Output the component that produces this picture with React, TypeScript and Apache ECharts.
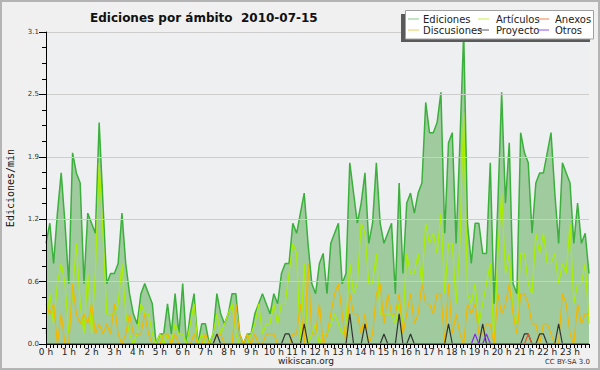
import React, { useEffect, useRef } from "react";
import * as echarts from "echarts";

const hourLabels = [
  "0 h", "1 h", "2 h", "3 h", "4 h", "5 h", "6 h", "7 h", "8 h", "9 h", "10 h", "11 h",
  "12 h", "13 h", "14 h", "15 h", "16 h", "17 h", "18 h", "19 h", "20 h", "21 h", "22 h", "23 h",
];
const yTickValues = [0, 0.62, 1.24, 1.86, 2.48, 3.1];

// 10-minute samples (144 per day), edits per minute
const ediciones = [
  1.0, 1.2, 0.8, 1.3, 1.7, 1.2, 0.6, 1.9, 1.7, 1.6,
  0.6, 1.3, 1.2, 1.1, 2.2, 1.4, 0.6, 0.7, 0.7, 0.8,
  1.3, 0.8, 0.5, 0.3, 0.2, 0.5, 0.6, 0.5, 0.4, 0.0,
  0.1, 0.1, 0.4, 0.1, 0.5, 0.1, 0.6, 0.0, 0.3, 0.5,
  0.0, 0.2, 0.2, 0.0, 0.1, 0.5, 0.3, 0.2, 0.3, 0.5,
  0.5, 0.1, 0.0, 0.1, 0.1, 0.3, 0.4, 0.5, 0.4, 0.3,
  0.5, 0.4, 0.7, 0.8, 0.8, 1.2, 1.1, 1.3, 1.5, 1.0,
  0.6, 0.5, 0.8, 0.9, 0.5, 1.0, 1.1, 1.2, 0.6, 0.7,
  1.8, 1.5, 1.2, 1.4, 1.7, 1.0, 1.2, 1.8, 1.2, 1.0,
  1.1, 1.2, 0.5, 1.6, 0.7, 1.4, 1.5, 1.3, 1.5, 1.6,
  2.4, 2.1, 2.1, 2.2, 2.5, 1.1, 2.0, 2.1, 1.0, 2.0,
  3.1, 1.2, 0.8, 1.2, 1.2, 0.9, 0.9, 1.8, 0.4, 1.4,
  2.5, 1.4, 2.0, 0.6, 0.5, 2.1, 1.9, 1.8, 1.1, 1.6,
  1.7, 1.7, 1.9, 2.1, 1.5, 1.0, 1.8, 1.7, 1.6, 1.0,
  1.4, 1.0, 1.1, 0.7,
];

const articulos = [
  0.1, 0.5, 0.2, 0.6, 0.8, 0.6, 0.1, 0.5, 1.0, 0.4,
  0.1, 0.7, 0.1, 0.7, 1.8, 1.1, 0.3, 0.3, 0.3, 0.4,
  0.8, 0.3, 0.1, 0.0, 0.1, 0.4, 0.3, 0.3, 0.1, 0.0,
  0.1, 0.0, 0.1, 0.0, 0.2, 0.1, 0.1, 0.0, 0.2, 0.4,
  0.0, 0.1, 0.0, 0.0, 0.1, 0.3, 0.1, 0.2, 0.3, 0.4,
  0.1, 0.0, 0.0, 0.0, 0.1, 0.2, 0.4, 0.1, 0.2, 0.2,
  0.4, 0.2, 0.4, 0.4, 0.7, 1.0, 0.9, 0.0, 0.8, 0.0,
  0.1, 0.2, 0.0, 0.1, 0.1, 0.2, 0.3, 0.2, 0.1, 0.2,
  0.8, 0.5, 0.6, 1.2, 1.1, 0.6, 0.6, 0.9, 0.3, 0.3,
  0.3, 0.3, 0.2, 0.4, 0.2, 0.9, 0.7, 0.7, 0.9, 0.6,
  1.2, 1.0, 1.1, 0.9, 1.3, 0.5, 1.0, 1.0, 0.4, 1.0,
  2.3, 0.5, 0.4, 0.6, 0.2, 0.4, 0.6, 0.8, 0.0, 0.9,
  1.5, 0.7, 0.9, 0.3, 0.2, 0.9, 0.9, 0.6, 0.5, 1.1,
  0.9, 1.1, 0.8, 0.8, 0.9, 0.6, 0.8, 0.7, 1.2, 0.4,
  0.6, 0.6, 0.8, 0.2,
];

const discusiones = [
  0.4, 0.3, 0.4, 0.0, 0.3, 0.0, 0.0, 0.6, 0.3, 0.2,
  0.3, 0.2, 0.4, 0.1, 0.2, 0.1, 0.2, 0.1, 0.4, 0.1,
  0.0, 0.1, 0.3, 0.1, 0.1, 0.1, 0.3, 0.1, 0.0, 0.0,
  0.0, 0.1, 0.1, 0.0, 0.1, 0.0, 0.0, 0.0, 0.0, 0.1,
  0.0, 0.0, 0.1, 0.0, 0.0, 0.1, 0.1, 0.0, 0.0, 0.0,
  0.4, 0.1, 0.0, 0.1, 0.0, 0.1, 0.0, 0.0, 0.1, 0.1,
  0.1, 0.0, 0.0, 0.0, 0.0, 0.1, 0.1, 0.4, 0.0, 0.8,
  0.1, 0.1, 0.4, 0.0, 0.1, 0.3, 0.5, 0.6, 0.3, 0.0,
  0.5, 0.3, 0.3, 0.1, 0.3, 0.0, 0.1, 0.5, 0.6, 0.2,
  0.5, 0.3, 0.3, 0.5, 0.1, 0.3, 0.5, 0.2, 0.3, 0.6,
  0.4, 0.4, 0.3, 0.5, 0.5, 0.0, 0.6, 0.1, 0.3, 0.1,
  0.0, 0.4, 0.3, 0.4, 0.1, 0.1, 0.2, 0.2, 0.0, 0.5,
  0.3, 0.4, 0.6, 0.3, 0.1, 0.5, 0.5, 0.4, 0.2, 0.2,
  0.0, 0.2, 0.2, 0.1, 0.0, 0.0, 0.5, 0.4, 0.1, 0.0,
  0.4, 0.2, 0.3, 0.3,
];

// sparse series: [sample index, value]; all other samples are 0
const proyectoPeaks = [
  [45, 0.1], [63, 0.1], [64, 0.1], [68, 0.2], [80, 0.3], [84, 0.2], [89, 0.1], [93, 0.3],
  [96, 0.1], [106, 0.2], [115, 0.2], [126, 0.1], [127, 0.1], [130, 0.1], [131, 0.1], [135, 0.2],
];
const otrosPeaks = [[113, 0.1], [116, 0.1]];
const anexosPeaks = [[127, 0.1]];

const N = ediciones.length;
const times = Array.from({ length: N }, (_, i) =>
  `${String(Math.floor(i / 6)).padStart(2, "0")}:${i % 6}0`
);
const expand = (peaks: number[][]) => {
  const arr = new Array(N).fill(0);
  peaks.forEach(([i, v]) => (arr[i] = v));
  return arr;
};
const proyecto = expand(proyectoPeaks);
const otros = expand(otrosPeaks);
const anexos = expand(anexosPeaks);

const legendItems = [
  { name: "Ediciones", color: "#86cc86", col: 0, row: 0 },
  { name: "Artículos", color: "#c8ec50", col: 1, row: 0 },
  { name: "Anexos", color: "#ee8050", col: 2, row: 0 },
  { name: "Discusiones", color: "#f4cc50", col: 0, row: 1 },
  { name: "Proyecto", color: "#555555", col: 1, row: 1 },
  { name: "Otros", color: "#9050ee", col: 2, row: 1 },
];

export default function App() {
  const ref = useRef<HTMLDivElement>(null);
  useEffect(() => {
    if (!ref.current) return;
    const chart = echarts.init(ref.current, null, { renderer: "svg" });
    const font = "DejaVu Sans";
    const lineSeries = (name: string, data: number[], color: string, z: number) => ({
      name,
      type: "line",
      data,
      symbol: "none",
      z,
      lineStyle: { color, width: 1.2 },
      itemStyle: { color },
    });
    const colX = [408, 478, 538];
    const textX = [423, 496, 555];
    const rowY = [19, 30];
    const legendGraphics: any[] = [];
    legendItems.forEach((it) => {
      legendGraphics.push({
        type: "line",
        shape: { x1: colX[it.col], y1: rowY[it.row], x2: colX[it.col] + 11, y2: rowY[it.row] },
        style: { stroke: it.color, lineWidth: 1 },
        z: 101,
      });
      legendGraphics.push({
        type: "text",
        x: textX[it.col],
        y: rowY[it.row],
        style: { text: it.name, font: `10px '${font}'`, fill: "#222", textVerticalAlign: "middle" },
        z: 101,
      });
    });

    chart.setOption({
      animation: false,
      backgroundColor: "#f0f0f0",
      textStyle: { fontFamily: font },
      title: {
        text: "Ediciones por ámbito  2010-07-15",
        left: 85,
        top: 7,
        textStyle: { fontFamily: font, fontWeight: "bold", fontSize: 12, color: "#111" },
      },
      grid: {
        left: 46,
        right: 11,
        top: 32,
        bottom: 26,
        show: true,
        backgroundColor: "#eeeff1",
        borderWidth: 0,
      },
      xAxis: {
        type: "category",
        data: times,
        boundaryGap: false,
        z: 10,
        axisLine: { lineStyle: { color: "#000", width: 1 } },
        axisTick: { interval: 0, length: 4, lineStyle: { color: "#000" } },
        axisLabel: {
          interval: (i: number) => i % 6 === 0,
          formatter: (_v: string, i: number) => hourLabels[Math.floor(i / 6)],
          fontSize: 9,
          color: "#222",
          margin: 3,
          fontFamily: font,
        },
        splitLine: { show: false },
      },
      yAxis: {
        type: "value",
        min: yTickValues[0],
        max: yTickValues[yTickValues.length - 1],
        interval: yTickValues[1],
        z: 10,
        axisLine: { show: true, lineStyle: { color: "#000" } },
        axisTick: { show: true, length: 7, lineStyle: { color: "#000" } },
        minorTick: { show: true, splitNumber: 4, length: 4, lineStyle: { color: "#000" } },
        axisLabel: {
          formatter: (v: number) => v.toFixed(1),
          fontSize: 7,
          color: "#333",
          margin: 7,
          fontFamily: font,
        },
        splitLine: { show: true, lineStyle: { color: "#cdcdcd", width: 1 } },
      },
      series: [
        {
          name: "Ediciones",
          type: "line",
          data: ediciones,
          symbol: "none",
          z: 2,
          lineStyle: { color: "#3cb03c", width: 1.5 },
          itemStyle: { color: "#3cb03c" },
          areaStyle: { color: "#9fcb9f", opacity: 1 },
        },
        lineSeries("Artículos", articulos, "#aaee00", 3),
        lineSeries("Discusiones", discusiones, "#f2b800", 4),
        lineSeries("Proyecto", proyecto, "#333333", 5),
        lineSeries("Otros", otros, "#8a2be2", 6),
        lineSeries("Anexos", anexos, "#e05a2a", 7),
      ],
      graphic: [
        {
          type: "rect",
          shape: { x: 1, y: 1, width: 598, height: 368 },
          style: { fill: "none", stroke: "#b4b4b4", lineWidth: 2 },
          z: 100,
        },
        {
          type: "text",
          x: 10,
          y: 188,
          rotation: Math.PI / 2,
          style: {
            text: "Ediciones/min",
            font: "10px 'DejaVu Sans Mono'",
            fill: "#111",
            textAlign: "center",
            textVerticalAlign: "middle",
          },
          z: 100,
        },
        {
          type: "text",
          x: 306,
          y: 361,
          style: {
            text: "wikiscan.org",
            font: `9px '${font}'`,
            fill: "#222",
            textAlign: "center",
            textVerticalAlign: "middle",
          },
          z: 100,
        },
        {
          type: "text",
          x: 590,
          y: 362,
          style: {
            text: "CC BY-SA 3.0",
            font: `7px '${font}'`,
            fill: "#333",
            textAlign: "right",
            textVerticalAlign: "middle",
          },
          z: 100,
        },
        {
          type: "rect",
          shape: { x: 401, y: 14, width: 189, height: 28 },
          style: { fill: "#5a5a5a" },
          z: 99,
        },
        {
          type: "rect",
          shape: { x: 405.5, y: 10.5, width: 188, height: 28.5 },
          style: { fill: "#ffffff", stroke: "#a0a0a0", lineWidth: 1 },
          z: 100,
        },
        ...legendGraphics,
      ],
    });
    return () => chart.dispose();
  }, []);
  return (
    <div
      ref={ref}
      style={{ position: "fixed", left: 0, top: 0, width: 600, height: 370 }}
    />
  );
}
